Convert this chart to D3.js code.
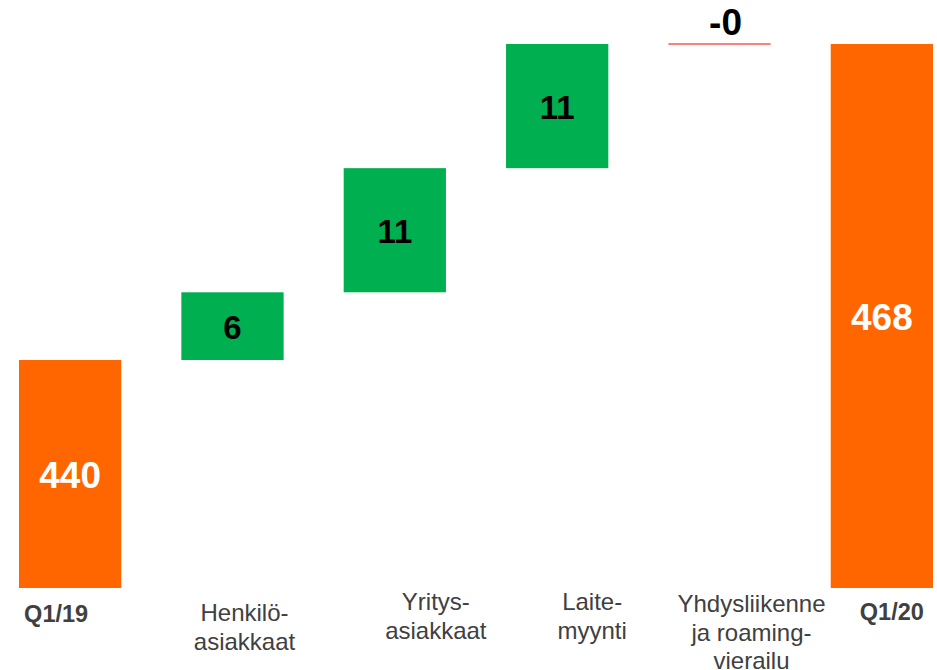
<!DOCTYPE html>
<html lang="fi">
<head>
<meta charset="UTF-8">
<title>Waterfall</title>
<script src="https://d3js.org/d3.v7.min.js"></script>
<style>
  body { margin: 0; background: #fff; }
  text { font-family: "Liberation Sans", Arial, sans-serif; }
</style>
</head>
<body>
<div id="chart"></div>
<script>
// data
const categories = ["Q1/19", "Henkilö-\nasiakkaat", "Yritys-\nasiakkaat", "Laite-\nmyynti", "Yhdysliikenne\nja roaming-\nvierailu", "Q1/20"];
const values = [440, 6, 11, 11, -0, 468];
const kinds = ["total", "delta", "delta", "delta", "delta", "total"];
const valueLabels = ["440", "6", "11", "11", "-0", "468"];

const width = 937, height = 670;
const svg = d3.select("#chart").append("svg")
    .attr("width", width)
    .attr("height", height);

const x = d3.scaleBand()
    .domain(d3.range(categories.length))
    .range([19, 933])
    .paddingInner(0.37)
    .paddingOuter(0);

const y = d3.scaleLinear()
    .domain([419.8, 468])
    .range([588, 44]);

// running totals
let run = 0;
const bars = values.map((v, i) => {
    let y0, y1;
    if (kinds[i] === "total") { y0 = y.domain()[0]; y1 = v; run = v; }
    else { y0 = run; y1 = run + v; run = y1; }
    return { i, v, y0, y1, kind: kinds[i], label: valueLabels[i] };
});

const color = d => d.kind === "total" ? "#FF6600" : (d.v > 0 ? "#00B050" : "#FF0000");

svg.selectAll(".bar")
    .data(bars.filter(d => d.y0 !== d.y1))
    .enter().append("rect")
    .attr("x", d => x(d.i))
    .attr("width", x.bandwidth())
    .attr("y", d => y(Math.max(d.y0, d.y1)))
    .attr("height", d => Math.abs(y(d.y0) - y(d.y1)))
    .attr("fill", color);

// zero change -> thin red line
svg.selectAll(".zero")
    .data(bars.filter(d => d.y0 === d.y1))
    .enter().append("line")
    .attr("x1", d => x(d.i))
    .attr("x2", d => x(d.i) + x.bandwidth())
    .attr("y1", d => y(d.y0))
    .attr("y2", d => y(d.y0))
    .attr("stroke", "#FF0000")
    .attr("stroke-width", 1.2);

// value labels
svg.selectAll(".val")
    .data(bars)
    .enter().append("text")
    .attr("x", d => x(d.i) + x.bandwidth() / 2 + (d.y0 === d.y1 ? 6 : 0))
    .attr("y", d => d.y0 === d.y1 ? y(d.y0) - 22 : (y(d.y0) + y(d.y1)) / 2 + 1)
    .attr("dy", "0.36em")
    .attr("text-anchor", "middle")
    .attr("font-weight", "bold")
    .attr("font-size", d => d.kind === "total" ? 37 : (d.y0 === d.y1 ? 37 : 33))
    .attr("fill", d => d.kind === "total" ? "#fff" : "#000")
    .text(d => d.label);

// category labels, nudged like on the original slide
const dx = [-14, 12, 41, 35, 32, 10];
const base = [622, 621, 610, 610, 612, 620];
const cat = svg.selectAll(".cat")
    .data(categories)
    .enter().append("text")
    .attr("text-anchor", "middle")
    .attr("font-size", (d, i) => kinds[i] === "total" ? 23.5 : 24)
    .attr("font-weight", (d, i) => kinds[i] === "total" ? "bold" : "normal")
    .attr("fill", "#404040")
    .attr("transform", (d, i) => `translate(${x(i) + x.bandwidth() / 2 + dx[i]},${base[i]})`);

cat.selectAll("tspan")
    .data(d => d.split("\n"))
    .enter().append("tspan")
    .attr("x", 0)
    .attr("y", (d, j) => j * 28.5)
    .text(d => d);
</script>
</body>
</html>
